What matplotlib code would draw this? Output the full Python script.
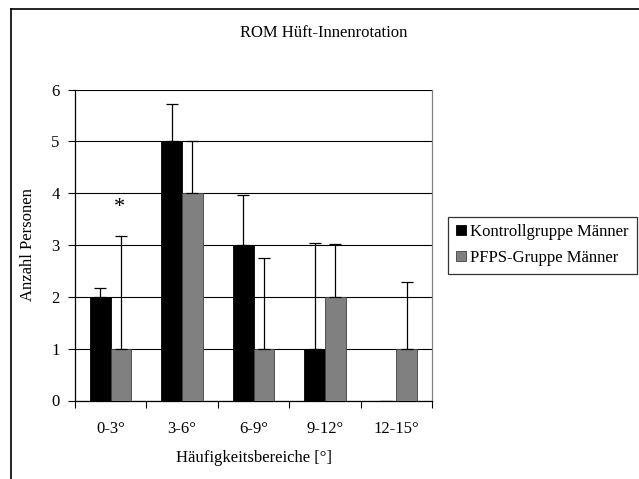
import numpy as np
import matplotlib.pyplot as plt
from matplotlib.lines import Line2D

plt.rcParams["font.family"] = ["Liberation Serif", "DejaVu Serif"]

categories = ["0-3°", "3-6°", "6-9°", "9-12°", "12-15°"]
kontroll = [2, 5, 3, 1, 0]
pfps = [1, 4, 1, 2, 1]
kontroll_err = [0.18, 0.72, 0.97, 2.03, 0.0]
pfps_err = [2.18, 1.0, 1.75, 1.01, 1.28]

fig = plt.figure(figsize=(6.39, 4.79), dpi=100)
ax = fig.add_axes([75 / 639, 1 - 400.5 / 479, 357 / 639, 311 / 479])

x = np.arange(len(categories))
w = 0.29
ekw = dict(elinewidth=0.9, capthick=0.9)
k_err = np.where(np.array(kontroll) == 0, np.nan, kontroll_err)
b1 = ax.bar(x - w / 2, kontroll, w, color="black", edgecolor="black", linewidth=0.6,
            yerr=[np.zeros(5), k_err], capsize=4, ecolor="black",
            error_kw=ekw, label="Kontrollgruppe Männer", zorder=3)
ax.bar(x + w / 2, pfps, w, color="#808080", edgecolor="#404040", linewidth=0.6,
       yerr=[np.zeros(5), pfps_err], capsize=4, ecolor="black",
       error_kw=ekw, label="PFPS-Gruppe Männer", zorder=3)
for p, v in zip(b1.patches, kontroll):
    if v == 0:
        p.set_linewidth(0)

ax.text(0.12, 3.72, "*", ha="center", va="center", fontsize=16)

ax.set_xlim(-0.5, 4.5)
ax.set_ylim(0, 6)
ax.set_yticks(range(7))
ax.yaxis.grid(True, color="black", linewidth=0.8, zorder=0)
ax.set_axisbelow(True)

ax.set_xticks(np.arange(-0.5, 5, 1))
ax.set_xticklabels([])
ax.set_xticks(x, minor=True)
ax.set_xticklabels(categories, minor=True)
ax.tick_params(axis="x", which="major", length=5, width=0.8, direction="out")
ax.tick_params(axis="x", which="minor", length=0, pad=15, labelsize=12)
ax.tick_params(axis="y", length=5, width=0.8, direction="out", pad=6, labelsize=12)

for s in ["left", "bottom"]:
    ax.spines[s].set_color("black")
    ax.spines[s].set_linewidth(0.9)
ax.spines["top"].set_visible(False)
ax.spines["right"].set_color("#808080")
ax.spines["right"].set_linewidth(0.9)

ax.set_xlabel("Häufigkeitsbereiche [°]", fontsize=12, labelpad=9)
ax.set_ylabel("Anzahl Personen", fontsize=12, labelpad=11)
fig.text(324 / 639, 1 - 33 / 479, "ROM Hüft-Innenrotation", ha="center",
         va="center", fontsize=12)

leg = ax.legend(loc="center left", bbox_to_anchor=(448 / 639, 1 - 245 / 479),
                bbox_transform=fig.transFigure, fontsize=12, frameon=True,
                fancybox=False, edgecolor="black", handlelength=0.6,
                handleheight=0.6, handletextpad=0.3, borderpad=0.45,
                labelspacing=0.6, borderaxespad=0)
leg.get_frame().set_linewidth(0.9)

# outer chart frame (left and top edges visible)
fig.add_artist(Line2D([11 / 639, 11 / 639], [0, 1 - 9 / 479], color="black",
                      linewidth=1.2, transform=fig.transFigure))
fig.add_artist(Line2D([11 / 639, 1], [1 - 9 / 479, 1 - 9 / 479], color="black",
                      linewidth=1.2, transform=fig.transFigure))

fig.savefig("out.png", dpi=100)
